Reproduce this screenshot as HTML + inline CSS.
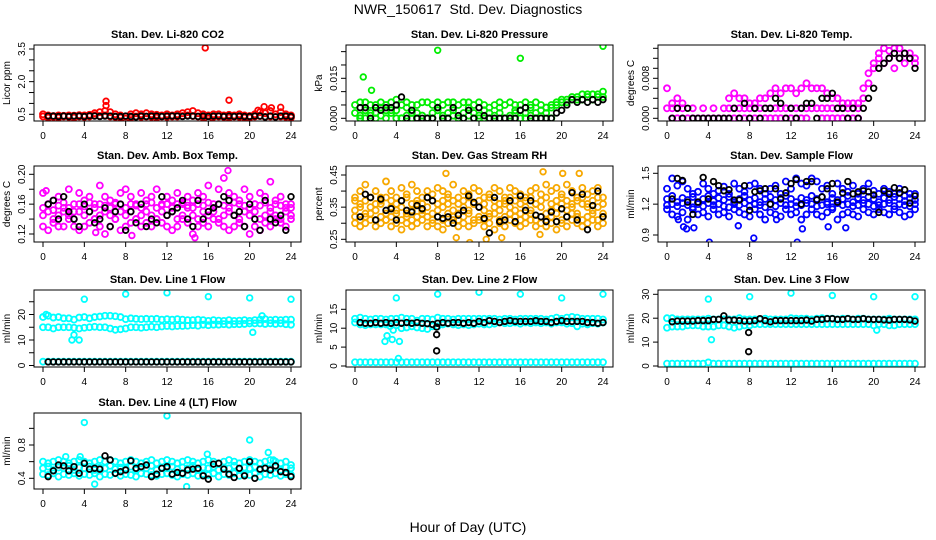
<!DOCTYPE html>
<html><head><meta charset="utf-8"><style>
html,body{margin:0;padding:0;background:#fff;}
svg{display:block;font-family:"Liberation Sans",sans-serif;}
</style></head><body>
<svg id="chart" width="936" height="540" viewBox="0 0 936 540" xmlns="http://www.w3.org/2000/svg">
<text x="468" y="14" text-anchor="middle" font-size="14">NWR_150617&#160; Std. Dev. Diagnostics</text>
<text x="468" y="532" text-anchor="middle" font-size="14">Hour of Day (UTC)</text>
</svg>
<script>
// ---- data (values at half-hour steps, hours 0..24; black at 0.5..24) ----
const hourTicks = [0,4,8,12,16,20,24];
const co2A = [0.5,0.45,0.42,0.45,0.43,0.45,0.44,0.46,0.45,0.48,0.55,0.6,0.65,0.6,0.5,0.45,0.4,0.5,0.55,0.5,0.55,0.5,0.48,0.45,0.5,0.45,0.5,0.55,0.6,0.65,0.55,0.5,0.45,0.5,0.5,0.45,0.48,0.45,0.5,0.45,0.42,0.5,0.6,0.55,0.65,0.5,0.6,0.5,0.45];
const co2B = [0.4,0.35,0.38,0.35,0.4,0.38,0.35,0.4,0.38,0.4,0.45,0.42,0.45,0.4,0.38,0.35,0.3,0.35,0.4,0.38,0.4,0.38,0.35,0.4,0.38,0.4,0.4,0.42,0.45,0.42,0.4,0.35,0.3,0.38,0.4,0.38,0.35,0.4,0.38,0.35,0.35,0.4,0.42,0.38,0.4,0.38,0.4,0.38,0.35];
const co2OutX = [15.7,18,6.1,6.1,21.4,22.1,23,20.8];
const co2OutY = [3.55,1.15,1.1,0.9,0.85,0.8,0.82,0.68];
const co2Black = [0.42,0.42,0.4,0.42,0.4,0.42,0.42,0.4,0.43,0.42,0.4,0.42,0.42,0.4,0.4,0.42,0.4,0.38,0.42,0.4,0.42,0.42,0.4,0.42,0.42,0.42,0.4,0.42,0.42,0.4,0.42,0.4,0.42,0.42,0.4,0.42,0.4,0.42,0.4,0.4,0.42,0.42,0.38,0.42,0.38,0.42,0.42,0.4];

const prA = [0.005,0.006,0.006,0.005,0.005,0.006,0.005,0.006,0.007,0.005,0.006,0.005,0.005,0.006,0.006,0.005,0.006,0.005,0.006,0.006,0.005,0.006,0.006,0.005,0.006,0.005,0.004,0.005,0.006,0.005,0.006,0.005,0.005,0.006,0.005,0.006,0.005,0.004,0.005,0.006,0.007,0.007,0.008,0.008,0.009,0.009,0.009,0.009,0.01];
const prB = [0.002,0.001,0.003,0.002,0.002,0.001,0.003,0.002,0.003,0.0,0.001,0.002,0.002,0.001,0.0,0.002,0.003,0.001,0.002,0.001,0.0,0.002,0.001,0.002,0.001,0.0,0.002,0.001,0.002,0.0,0.001,0.002,0.003,0.002,0.001,0.002,0.003,0.004,0.004,0.005,0.006,0.006,0.007,0.007,0.007,0.008,0.007,0.008,0.008];
const prC = [null,0,0,0.001,0,0.004,0,0.003,0,0,0.004,0,0,0.001,0,0,0.004,0,0,0.003,0,0,0.004,0,0,0.003,0,0,0.004,0,0,0.003,0,0,0.004,0,0,0.002,0,null,null,null,null,null,null,null,null,null,null];
const prOutX = [0.8,8,16,24,1.6];
const prOutY = [0.0155,0.0255,0.0225,0.027,0.0105];
const prBlack = [0.004,0.004,0,0.004,0.003,0.004,0.004,0.005,0.008,0,0.003,0,0,0,0,0.004,0,0,0.004,0.001,0,0.003,0,0.004,0.001,0,0,0,0,0,0,0.003,0.004,0,0,0,0,0,0.002,0.003,0.005,0.007,0.006,0.007,0.006,0.007,0.006,0.007];

const tmA = [0.006,0.003,0.004,0.003,null,null,null,null,null,null,null,null,0.004,0.005,0.004,0.004,0.003,0.003,0.004,0.004,0.005,0.006,0.005,0.006,0.006,0.005,0.006,0.007,0.006,0.006,0.006,0.005,0.004,0.004,0.003,0.003,0.003,0.003,0.006,0.009,0.011,0.013,0.014,0.0135,0.014,0.014,0.013,0.013,0.012];
const tmB = [0.002,0.002,0.002,0.002,null,0.002,null,0.002,null,0.002,null,0.002,0.002,0.002,0.002,0.002,0.002,0.002,0.002,0.002,0.002,0.002,0.002,0.002,0.002,0.002,0.002,0.002,0.002,0.002,0.002,0.002,0.002,0.002,0.002,0.002,0.002,0.002,0.004,0.007,0.01,0.012,0.011,0.012,0.01,0.012,0.011,0.012,0.011];
const tmC = [null,0,0,0,0,0,0,0,0,0,0,0,0,0,0,0,0,0,0,0,0,0,0,0,0,0,0,0,null,null,0,0,0,0,0,0,0,0,null,null,null,null,null,null,null,null,null,null,null];
const tmBlack = [0,0.002,0,0.002,0,0,0,0,0,0,0,0,0.002,0,0.003,0,0.002,0,0.002,0.002,0.004,0.003,0,0.002,0,0.002,0.003,0.003,0,0.004,0.004,0.005,0.002,0.002,0,0.002,0,0.002,0.004,0.006,0.01,0.011,0.012,0.013,0.012,0.013,0.012,0.01];

const abA = [0.175,0.16,0.165,0.17,0.155,0.18,0.16,0.175,0.165,0.17,0.16,0.185,0.17,0.165,0.16,0.175,0.18,0.17,0.16,0.175,0.165,0.17,0.18,0.16,0.17,0.165,0.175,0.16,0.17,0.165,0.175,0.17,0.185,0.16,0.18,0.195,0.175,0.17,0.165,0.18,0.17,0.16,0.175,0.17,0.19,0.165,0.17,0.16,0.155];
const abB = [0.13,0.125,0.135,0.13,0.13,0.14,0.13,0.125,0.13,0.135,0.14,0.13,0.12,0.13,0.14,0.125,0.13,0.135,0.14,0.13,0.135,0.13,0.14,0.135,0.13,0.125,0.13,0.14,0.135,0.12,0.13,0.135,0.13,0.14,0.135,0.13,0.125,0.13,0.135,0.13,0.12,0.13,0.125,0.135,0.13,0.14,0.135,0.13,0.14];
const abC = [0.145,0.15,0.14,0.145,0.15,0.145,0.14,0.15,0.145,0.15,0.14,0.145,0.15,0.145,0.14,0.15,0.145,0.15,0.14,0.145,0.15,0.145,0.14,0.15,0.145,0.15,0.14,0.145,0.155,0.145,0.14,0.15,0.145,0.15,0.14,0.145,0.15,0.145,0.14,0.15,0.145,0.15,0.14,0.145,0.15,0.145,0.14,0.15,0.145];
const abD = [0.155,0.16,0.152,0.158,0.162,0.155,0.15,0.16,0.157,0.162,0.155,0.16,0.158,0.155,0.162,0.16,0.155,0.16,0.158,0.155,0.16,0.162,0.155,0.158,0.16,0.155,0.16,0.162,0.158,0.155,0.16,0.158,0.162,0.155,0.16,0.158,0.155,0.162,0.16,0.158,0.155,0.16,0.158,0.162,0.155,0.16,0.158,0.155,0.16];
const abOutX = [5.6,14.7,17.9,8.6,5.1,0.3];
const abOutY = [0.1,0.115,0.205,0.118,0.122,0.178];
const abBlack = [0.16,0.165,0.14,0.17,0.15,0.14,0.13,0.16,0.15,0.135,0.14,0.155,0.13,0.15,0.16,0.125,0.15,0.135,0.16,0.13,0.14,0.135,0.17,0.145,0.15,0.155,0.165,0.14,0.13,0.165,0.14,0.15,0.155,0.16,0.17,0.165,0.145,0.15,0.13,0.16,0.14,0.125,0.165,0.14,0.135,0.145,0.125,0.17];

const rhA = [0.38,0.4,0.42,0.38,0.4,0.38,0.43,0.4,0.38,0.41,0.39,0.42,0.4,0.38,0.4,0.39,0.41,0.4,0.39,0.42,0.38,0.4,0.39,0.41,0.4,0.38,0.39,0.41,0.4,0.38,0.41,0.4,0.39,0.38,0.4,0.41,0.39,0.42,0.4,0.41,0.39,0.42,0.4,0.38,0.41,0.39,0.4,0.41,0.38];
const rhB = [0.3,0.29,0.3,0.31,0.29,0.3,0.31,0.29,0.3,0.28,0.3,0.29,0.3,0.31,0.29,0.3,0.29,0.28,0.3,0.31,0.29,0.3,0.29,0.3,0.31,0.29,0.3,0.28,0.3,0.29,0.31,0.3,0.29,0.3,0.31,0.29,0.3,0.29,0.3,0.28,0.3,0.29,0.31,0.3,0.29,0.3,0.31,0.29,0.3];
const rhC = [0.34,0.35,0.33,0.35,0.34,0.36,0.33,0.35,0.34,0.35,0.33,0.34,0.36,0.34,0.35,0.33,0.34,0.35,0.36,0.34,0.33,0.35,0.34,0.36,0.35,0.34,0.33,0.35,0.34,0.36,0.35,0.34,0.33,0.35,0.34,0.36,0.35,0.33,0.34,0.35,0.36,0.34,0.35,0.33,0.36,0.35,0.34,0.35,0.33];
const rhD = [0.32,0.31,0.32,0.33,0.31,0.32,0.31,0.32,0.33,0.31,0.32,0.31,0.32,0.33,0.32,0.31,0.32,0.31,0.33,0.32,0.31,0.32,0.33,0.31,0.32,0.31,0.32,0.33,0.31,0.32,0.33,0.32,0.31,0.32,0.33,0.31,0.32,0.31,0.32,0.33,0.31,0.32,0.33,0.32,0.31,0.32,0.33,0.31,0.32];
const rhE = [0.37,0.36,0.37,0.38,0.36,0.37,0.38,0.37,0.36,0.37,0.38,0.36,0.37,0.36,0.38,0.37,0.36,0.37,0.38,0.37,0.36,0.37,0.38,0.36,0.37,0.36,0.38,0.37,0.36,0.37,0.38,0.37,0.36,0.37,0.38,0.36,0.37,0.38,0.36,0.37,0.38,0.37,0.36,0.37,0.38,0.36,0.37,0.38,0.36];
const rhOutX = [8.8,18.2,11.1,9.8,20.1,21.7,12.7,14.2,17.9];
const rhOutY = [0.455,0.46,0.24,0.255,0.455,0.455,0.25,0.255,0.265];
const rhBlack = [0.32,0.39,0.38,0.31,0.375,0.34,0.345,0.31,0.37,0.34,0.335,0.355,0.345,0.38,0.37,0.32,0.315,0.32,0.3,0.325,0.34,0.385,0.365,0.35,0.315,0.27,0.38,0.305,0.31,0.37,0.305,0.385,0.34,0.37,0.325,0.32,0.305,0.335,0.305,0.345,0.32,0.395,0.31,0.39,0.28,0.355,0.4,0.32];

const sfA = [1.35,1.45,1.38,1.42,1.35,1.3,1.32,1.4,1.35,1.3,1.33,1.37,1.3,1.4,1.35,1.32,1.38,1.4,1.35,1.3,1.35,1.38,1.3,1.42,1.35,1.45,1.4,1.38,1.45,1.42,1.35,1.38,1.3,1.4,1.35,1.32,1.38,1.3,1.35,1.4,1.33,1.3,1.35,1.32,1.3,1.35,1.28,1.3,1.3];
const sfB = [1.15,1.1,1.08,1.12,1.05,1.15,1.1,1.12,1.08,1.15,1.1,1.12,1.08,1.15,1.12,1.1,1.08,1.15,1.1,1.05,1.12,1.1,1.08,1.15,1.1,1.12,1.05,1.1,1.15,1.1,1.08,1.12,1.15,1.05,1.1,1.12,1.1,1.08,1.15,1.12,1.1,1.15,1.12,1.1,1.15,1.12,1.08,1.1,1.15];
const sfC = [1.25,1.28,1.22,1.26,1.24,1.27,1.22,1.25,1.28,1.23,1.26,1.24,1.27,1.22,1.25,1.28,1.24,1.26,1.22,1.25,1.27,1.24,1.26,1.28,1.25,1.22,1.26,1.24,1.28,1.25,1.27,1.22,1.26,1.24,1.25,1.28,1.22,1.26,1.24,1.27,1.25,1.22,1.26,1.24,1.27,1.25,1.23,1.26,1.24];
const sfD = [1.19,1.2,1.18,1.21,1.19,1.17,1.2,1.18,1.21,1.19,1.2,1.18,1.17,1.2,1.19,1.21,1.18,1.2,1.19,1.17,1.2,1.18,1.21,1.19,1.2,1.18,1.19,1.21,1.2,1.18,1.19,1.2,1.17,1.21,1.19,1.2,1.18,1.19,1.21,1.2,1.18,1.19,1.2,1.21,1.18,1.2,1.19,1.18,1.2];
const sfOutX = [1.6,2.6,4.1,6.9,8.4,12.6,13.1,15.6,17.3,1.9,1.1,10.6];
const sfOutY = [0.98,0.97,0.83,0.99,0.87,0.83,0.96,0.98,0.97,0.96,1.05,1.05];
const sfBlack = [1.25,1.45,1.43,1.22,1.1,1.22,1.46,1.25,1.42,1.38,1.33,1.34,1.24,1.24,1.38,1.14,1.32,1.33,1.35,1.2,1.35,1.25,1.31,1.4,1.44,1.2,1.42,1.42,1.24,1.27,1.35,1.4,1.22,1.31,1.42,1.3,1.32,1.33,1.32,1.29,1.12,1.33,1.3,1.36,1.31,1.34,1.21,1.28];

const l1A = [19,19.5,18.8,19,18.5,18.5,18,18.8,19,18.5,19,19.2,19.5,19.5,19.3,19,18.2,18.5,18.3,18.2,18.3,18.2,18.3,18,18.2,18,18.2,18,17.8,17.8,18,17.8,17.5,17.8,17.6,17.5,17.8,17.5,17.6,17.8,17.5,17.8,18,18.2,17.8,18,17.8,18,18];
const l1B = [15,15,14.5,15,15,15,14.8,14.5,14.8,15,15.2,15,15,14.5,14,14.2,14.5,15,15,14.8,15,15.2,15,15.3,15.5,15.3,15.5,15.5,15.6,15.8,15.6,16,15.8,16,16,16.2,16,16.2,16.2,16.3,16.5,16.5,16.5,16.3,16.5,16.3,16.5,16.2,16];
const l1C = [1.5,1.5,1.5,1.5,1.5,1.5,1.5,1.5,1.5,1.5,1.5,1.5,1.5,1.5,1.5,1.5,1.5,1.5,1.5,1.5,1.5,1.5,1.5,1.5,1.5,1.5,1.5,1.5,1.5,1.5,1.5,1.5,1.5,1.5,1.5,1.5,1.5,1.5,1.5,1.5,1.5,1.5,1.5,1.5,1.5,1.5,1.5,1.5,1.5];
const l1OutX = [4,8,12,16,20,24,2.8,3.5,3,20.3,0.3,21.2];
const l1OutY = [26,28,28.5,27,26.5,26,10,10,12,13,20,19.5];
const l1Black = [1.4,1.4,1.4,1.4,1.4,1.4,1.4,1.4,1.4,1.4,1.4,1.4,1.4,1.4,1.4,1.4,1.4,1.4,1.4,1.4,1.4,1.4,1.4,1.4,1.4,1.4,1.4,1.4,1.4,1.4,1.4,1.4,1.4,1.4,1.4,1.4,1.4,1.4,1.4,1.4,1.4,1.4,1.4,1.4,1.4,1.4,1.4,1.4];

const l2A = [12.5,12.8,12.5,12.3,12.5,12.5,12.3,12.5,12.5,12.8,12.5,12.5,12,12.5,12.5,12.3,12.8,12.5,12.5,12.3,12.5,12.5,12.5,12.5,12.5,12.5,12.5,12.5,12.3,12.5,12.5,12.3,12.5,12.5,12.5,12.5,12.5,12.3,12.5,12.8,12.5,12.8,13,12.8,12.5,12.5,12.5,12.5,12.3];
const l2B = [11.5,11,10.8,11,11,11,11,11.2,10.8,10,10.2,10.5,10.2,10,9.8,10.5,10.5,11,11.2,11,10.8,11,10.8,11,11.2,11,11,11.2,11.5,11.3,11.3,11.5,11.2,11.5,11.3,11.5,11.3,11.5,11.2,11.5,11.5,11.2,11.3,10.5,11.2,11,11.3,11.2,11.5];
const l2C = [1,1,1,1,1,1,1,1,1,1,1,1,1,1,1,1,1,1,1,1,1,1,1,1,1,1,1,1,1,1,1,1,1,1,1,1,1,1,1,1,1,1,1,1,1,1,1,1,1];
const l2OutX = [4,8,12,16,20,24,2.9,3.1,3.6,4.3,4.2,3.7,3.4];
const l2OutY = [18,19,19.5,19,18,19,6.5,8,7,6.5,2,9.5,10.5];
const l2BlackOutX = [7.9,7.9,7.9];
const l2BlackOutY = [10.3,8.3,4];
const l2Black = [11.5,11.3,11.3,11.5,11.3,11.5,11.3,11.5,11.3,11.5,11.3,11.5,11.3,11.2,11,11.3,11.5,11.3,11.5,11.5,11.3,11.5,11.3,11.8,11.5,12,11.8,11.5,11.8,12,11.8,11.8,11.8,11.8,12,11.8,11.8,11.5,11.8,12,11.8,11.8,11.8,11.8,11.5,11.5,11.3,11.5];

const l3A = [20,20,19.5,19.5,19.5,19.5,19.5,19.5,19.8,19.5,19.5,19.5,19.5,19.5,20,19.5,19.5,19.5,19.5,19.8,19.5,19.5,19.5,19.5,20,19.8,19.8,19.8,19.5,19.8,20,19.8,19.8,19.5,19.8,19.8,19.5,19.8,19.8,19.5,19.5,19.5,19.5,19.8,19.5,19.5,19.5,19.5,19.5];
const l3B = [16,16.5,16.5,16.5,17,17,17,16.5,16.5,16.5,17,17,16.5,16,16.5,17,17,17.5,17.5,17.5,17.5,17.5,17.5,17.5,17.5,17.5,17.5,17.5,17.5,17.5,17.5,17.5,17.5,17.5,17.5,17.5,17.5,17.5,17.5,17.5,17,17.5,17.5,17,17,17.5,17.5,17.5,17.5];
const l3C = [1,1,1,1,1,1,1,1,1.5,1,1,1,1,1,1,1,1,1,1,1,1,1,1,1,1,1,1,1,1,1,1,1,1,1,1,1,1,1,1,1,1,1,1,1,1,1,1,1,1];
const l3OutX = [4,8,12,16,20,24,4.3,20.3];
const l3OutY = [28,29,30.5,29.5,29,29,11,15];
const l3BlackOutX = [7.9,7.9];
const l3BlackOutY = [14,6];
const l3Black = [18.5,18.8,18.8,18.8,18.8,19,19,19,19.5,19.5,21,19.2,19.2,19,18.8,18.8,19,19.8,19,18.5,19,19,19,19,19,19,19.2,18.8,19.5,19.5,19.8,19.8,19.5,19.5,19.8,19.5,19.5,19.8,19.5,19.5,19.5,19.3,19.2,19.5,19.5,19.5,19.3,18.8];

const l4A = [0.6,0.58,0.6,0.62,0.6,0.58,0.6,0.62,0.6,0.58,0.6,0.62,0.6,0.62,0.6,0.58,0.6,0.62,0.6,0.58,0.6,0.62,0.58,0.6,0.62,0.6,0.58,0.6,0.62,0.6,0.58,0.6,0.62,0.6,0.58,0.6,0.62,0.6,0.58,0.6,0.62,0.6,0.58,0.6,0.62,0.6,0.58,0.6,0.56];
const l4B = [0.45,0.44,0.46,0.42,0.45,0.44,0.46,0.43,0.45,0.44,0.46,0.42,0.45,0.44,0.46,0.43,0.45,0.44,0.42,0.46,0.45,0.44,0.43,0.45,0.46,0.44,0.42,0.45,0.44,0.46,0.43,0.45,0.44,0.46,0.42,0.45,0.44,0.46,0.43,0.45,0.44,0.46,0.42,0.45,0.44,0.46,0.43,0.45,0.44];
const l4C = [0.52,0.54,0.5,0.53,0.52,0.55,0.5,0.53,0.52,0.54,0.5,0.53,0.52,0.55,0.51,0.53,0.52,0.54,0.5,0.53,0.52,0.55,0.5,0.53,0.52,0.54,0.51,0.53,0.52,0.55,0.5,0.53,0.52,0.54,0.5,0.53,0.52,0.55,0.51,0.53,0.52,0.54,0.5,0.53,0.52,0.55,0.5,0.53,0.52];
const l4OutX = [4,12,20,21.8,13.9,5,15.9,2.2,3.6,22.3];
const l4OutY = [1.07,1.15,0.86,0.71,0.3,0.33,0.69,0.66,0.66,0.62];
const l4Black = [0.42,0.49,0.56,0.55,0.49,0.54,0.46,0.58,0.51,0.52,0.51,0.67,0.62,0.46,0.48,0.5,0.61,0.52,0.54,0.56,0.42,0.45,0.52,0.54,0.45,0.47,0.46,0.5,0.51,0.52,0.43,0.39,0.57,0.58,0.51,0.45,0.41,0.52,0.43,0.6,0.4,0.51,0.52,0.5,0.55,0.48,0.47,0.42];

// ---- panel layout ----
const NS = 'http://www.w3.org/2000/svg';
const svg = document.getElementById('chart');
const panels = [
 {name:'co2',title:'Stan. Dev. Li-820 CO2',ylab:'Licor ppm',col:0,T:45,B:121,v1:0.5,p1:114.3,v2:3.5,p2:49,ticks:[0.5,1,1.5,2,2.5,3,3.5],labels:[0.5,2.0,3.5],dec:1,color:'#ff0000',series:[co2A,co2B],ox:co2OutX,oy:co2OutY,black:co2Black},
 {name:'pressure',title:'Stan. Dev. Li-820 Pressure',ylab:'kPa',col:1,T:45,B:121,v1:0,p1:118.3,v2:0.015,p2:78.3,ticks:[0,0.005,0.01,0.015,0.02,0.025],labels:[0,0.015],dec:3,color:'#00ee00',series:[prA,prB,prC],ox:prOutX,oy:prOutY,black:prBlack},
 {name:'temp',title:'Stan. Dev. Li-820 Temp.',ylab:'degrees C',col:2,T:45,B:121,v1:0,p1:118.3,v2:0.008,p2:78.3,ticks:[0,0.002,0.004,0.006,0.008,0.01,0.012,0.014],labels:[0,0.008],dec:3,color:'#ff00ff',series:[tmA,tmB,tmC],ox:[],oy:[],black:tmBlack},
 {name:'amb-box-temp',title:'Stan. Dev. Amb. Box Temp.',ylab:'degrees C',col:0,T:166,B:242,v1:0.12,p1:234,v2:0.2,p2:174.3,ticks:[0.12,0.14,0.16,0.18,0.2],labels:[0.12,0.16,0.2],dec:2,color:'#ff00ff',series:[abA,abB,abC,abD],ox:abOutX,oy:abOutY,black:abBlack},
 {name:'gas-rh',title:'Stan. Dev. Gas Stream RH',ylab:'percent',col:1,T:166,B:242,v1:0.25,p1:239.3,v2:0.45,p2:175,ticks:[0.25,0.3,0.35,0.4,0.45],labels:[0.25,0.35,0.45],dec:2,color:'#f7a800',series:[rhA,rhB,rhC,rhD,rhE],ox:rhOutX,oy:rhOutY,black:rhBlack},
 {name:'sample-flow',title:'Stan. Dev. Sample Flow',ylab:'ml/min',col:2,T:166,B:242,v1:0.9,p1:235,v2:1.5,p2:173.3,ticks:[0.9,1.2,1.5],labels:[0.9,1.2,1.5],dec:1,color:'#0000ff',series:[sfA,sfB,sfC,sfD],ox:sfOutX,oy:sfOutY,black:sfBlack},
 {name:'line1-flow',title:'Stan. Dev. Line 1 Flow',ylab:'ml/min',col:0,T:290,B:367,v1:0,p1:365.5,v2:20,p2:314.5,ticks:[0,5,10,15,20,25],labels:[0,10,20],dec:0,color:'#00ffff',series:[l1A,l1B,l1C],ox:l1OutX,oy:l1OutY,black:l1Black},
 {name:'line2-flow',title:'Stan. Dev. Line 2 Flow',ylab:'ml/min',col:1,T:290,B:367,v1:0,p1:366,v2:15,p2:309.3,ticks:[0,5,10,15],labels:[0,5,10,15],dec:0,color:'#00ffff',series:[l2A,l2B,l2C],ox:l2OutX,oy:l2OutY,black:l2Black,bx:l2BlackOutX,by:l2BlackOutY},
 {name:'line3-flow',title:'Stan. Dev. Line 3 Flow',ylab:'ml/min',col:2,T:290,B:367,v1:0,p1:366,v2:30,p2:294.3,ticks:[0,10,20,30],labels:[0,10,20,30],dec:0,color:'#00ffff',series:[l3A,l3B,l3C],ox:l3OutX,oy:l3OutY,black:l3Black,bx:l3BlackOutX,by:l3BlackOutY},
 {name:'line4-lt-flow',title:'Stan. Dev. Line 4 (LT) Flow',ylab:'ml/min',col:0,T:413,B:489,v1:0.4,p1:478.3,v2:0.8,p2:445,ticks:[0.4,0.6,0.8,1.0],labels:[0.4,0.8],dec:1,color:'#00ffff',series:[l4A,l4B,l4C],ox:l4OutX,oy:l4OutY,black:l4Black}
];

function mk(tag, attrs, parent){
  const e = document.createElementNS(NS, tag);
  for (const k in attrs) e.setAttribute(k, attrs[k]);
  (parent||svg).appendChild(e);
  return e;
}

panels.forEach(p => {
  const L = 34 + 312*p.col, R = L + 267;
  const xs = h => L + 9 + h*(248/24);
  const ys = v => p.p1 + (v - p.v1)*(p.p2 - p.p1)/(p.v2 - p.v1);
  const g = mk('g', {});
  
  
  const clipId = 'clip-' + p.name;
  const cp = mk('clipPath', {id: clipId}, g);
  mk('rect', {x:L, y:p.T, width:R-L, height:p.B-p.T}, cp);

  const t = mk('text', {x:(L+R)/2, y:p.T-7, 'text-anchor':'middle', 'font-size':'11', 'font-weight':'bold'}, g);
  t.textContent = p.title;
  
  

  const marks = mk('g', {'clip-path':'url(#'+clipId+')', fill:'none', 'stroke-width':'1.8'}, g);
  
  
  p.series.forEach(arr => {
    arr.forEach((v, i) => {
      if (v === null) return;
      const c = mk('circle', {cx:xs(i*0.5), cy:ys(v), r:3, stroke:p.color}, marks);
      
      
    });
  });
  p.ox.forEach((x, i) => {
    const c = mk('circle', {cx:xs(x), cy:ys(p.oy[i]), r:2.8, stroke:p.color}, marks);
    
    
  });
  p.black.forEach((v, i) => {
    const c = mk('circle', {cx:xs(0.5 + i*0.5), cy:ys(v), r:2.8, stroke:'#000'}, marks);
    
    
  });
  if (p.bx) p.bx.forEach((x, i) => {
    const c = mk('circle', {cx:xs(x), cy:ys(p.by[i]), r:2.8, stroke:'#000'}, marks);
    
    
  });

  const box = mk('rect', {x:L, y:p.T, width:R-L, height:p.B-p.T, fill:'none', stroke:'#000', 'stroke-width':'1'}, g);
  
  

  const xa = mk('g', {}, g);
  
  
  mk('line', {x1:xs(0), x2:xs(24), y1:p.B, y2:p.B, stroke:'#000'}, xa);
  hourTicks.forEach(h => {
    mk('line', {x1:xs(h), x2:xs(h), y1:p.B, y2:p.B+5, stroke:'#000'}, xa);
    const tl = mk('text', {x:xs(h), y:p.B+18, 'text-anchor':'middle', 'font-size':'10'}, xa);
    tl.textContent = h;
    
    
  });

  const ya = mk('g', {}, g);
  
  
  const tv = p.ticks;
  mk('line', {x1:L, x2:L, y1:ys(tv[0]), y2:ys(tv[tv.length-1]), stroke:'#000'}, ya);
  tv.forEach(v => mk('line', {x1:L-5, x2:L, y1:ys(v), y2:ys(v), stroke:'#000'}, ya));
  p.labels.forEach(v => {
    const yy = ys(v), xx = L - 9;
    const tl = mk('text', {x:xx, y:yy, 'text-anchor':'middle', 'font-size':'10', transform:'rotate(-90 '+xx+' '+yy+')'}, ya);
    tl.textContent = v.toFixed(p.dec);
    
    
  });
  const cy = (p.T + p.B)/2, cx = L - 24;
  const yl = mk('text', {x:cx, y:cy, 'text-anchor':'middle', 'font-size':'10', transform:'rotate(-90 '+cx+' '+cy+')'}, ya);
  yl.textContent = p.ylab;
  
  
});
</script>
</body></html>
